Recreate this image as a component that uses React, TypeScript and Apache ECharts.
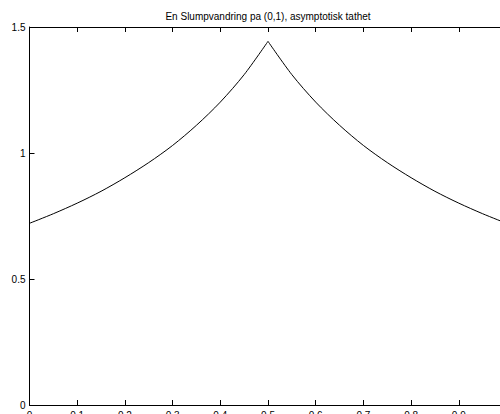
import React, { useEffect, useRef } from "react";
import * as echarts from "echarts";

const titleText = "En Slumpvandring pa (0,1), asymptotisk tathet";
const leftX = [0, 0.05, 0.1, 0.15, 0.2, 0.25, 0.3, 0.35, 0.4, 0.45, 0.5];
const leftY = [0.721, 0.759, 0.801, 0.848, 0.902, 0.962, 1.030, 1.110, 1.202, 1.311, 1.443];
const rightX = [0.5, 0.55, 0.6, 0.65, 0.7, 0.75, 0.8, 0.85, 0.9, 0.95, 1];
const rightY = [1.443, 1.311, 1.202, 1.110, 1.030, 0.962, 0.902, 0.848, 0.801, 0.759, 0.721];

export default function App() {
  const ref = useRef<HTMLDivElement>(null);
  useEffect(() => {
    if (!ref.current) return;
    const chart = echarts.init(ref.current, null, { renderer: "svg" });
    const font = "'Liberation Sans', Arial, sans-serif";
    const axisCommon = {
      axisLine: { show: true, onZero: false, lineStyle: { color: "#000", width: 1 } },
      axisTick: { show: true, inside: true, length: 5, lineStyle: { color: "#000", width: 1 } },
      splitLine: { show: false },
    };
    chart.setOption({
      animation: false,
      backgroundColor: "#fff",
      title: {
        text: titleText,
        left: "center",
        top: 6,
        textStyle: { fontFamily: font, fontSize: 10, fontWeight: "normal", color: "#000" },
      },
      grid: { left: 29.5, top: 27, width: 477, height: 378 },
      xAxis: [
        {
          type: "value", min: 0, max: 1, interval: 0.1, position: "bottom",
          ...axisCommon,
          axisLabel: { color: "#000", fontFamily: font, fontSize: 10, margin: 5 },
        },
        {
          type: "value", min: 0, max: 1, interval: 0.1, position: "top",
          ...axisCommon,
          axisLabel: { show: false },
        },
      ],
      yAxis: [
        {
          type: "value", min: 0, max: 1.5, interval: 0.5, position: "left",
          ...axisCommon,
          axisLabel: { color: "#000", fontFamily: font, fontSize: 10, margin: 4 },
        },
        {
          type: "value", min: 0, max: 1.5, interval: 0.5, position: "right",
          ...axisCommon,
          axisLabel: { show: false },
        },
      ],
      series: [
        {
          type: "line",
          data: leftX.map((x, i) => [x, leftY[i]]),
          smooth: 0.3,
          showSymbol: false,
          lineStyle: { color: "#000", width: 1 },
        },
        {
          type: "line",
          data: rightX.map((x, i) => [x, rightY[i]]),
          smooth: 0.3,
          showSymbol: false,
          lineStyle: { color: "#000", width: 1 },
        },
      ],
    });
    return () => chart.dispose();
  }, []);
  return (
    <div style={{ position: "fixed", left: 0, top: 0, width: 500, height: 414, overflow: "hidden", background: "#fff" }}>
      <div ref={ref} style={{ width: 536, height: 430 }} />
    </div>
  );
}
